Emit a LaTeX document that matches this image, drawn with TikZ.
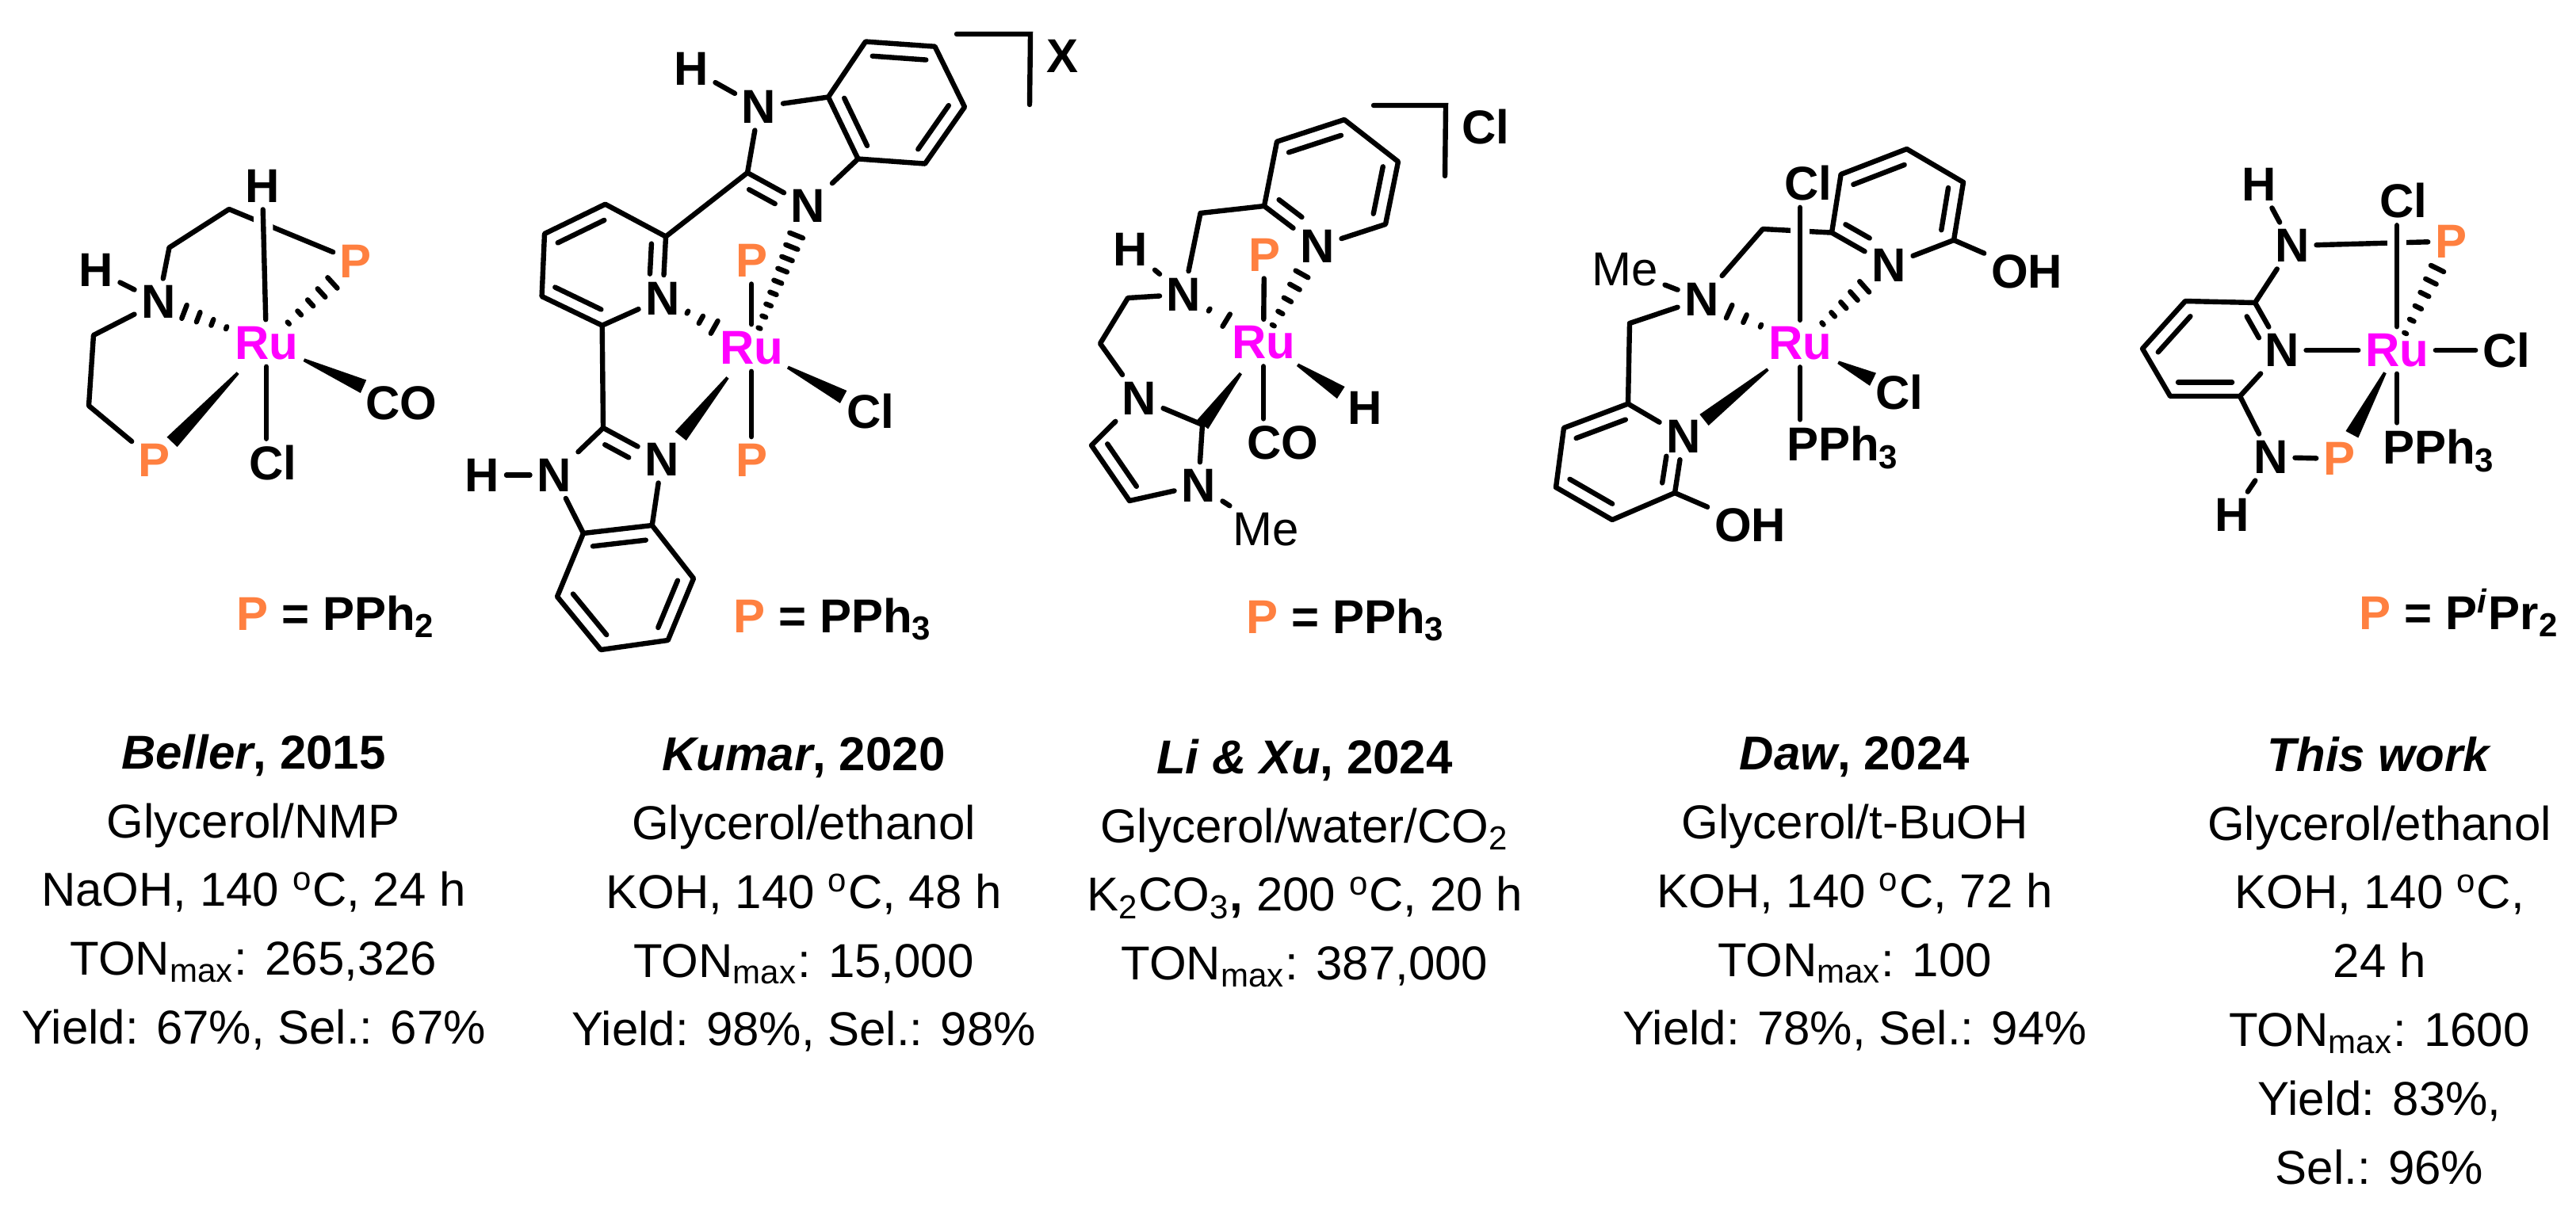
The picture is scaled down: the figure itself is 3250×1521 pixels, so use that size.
\documentclass[tikz,border=0pt]{standalone}
\usepackage{fontspec}
\setmainfont{Liberation Sans}
\usepackage{xcolor}
\usepackage{tikz}
\usetikzlibrary{calc}
\definecolor{RuPink}{RGB}{255,0,255}
\definecolor{POrange}{RGB}{255,128,64}
\tikzset{
    atom/.style={font=\fontsize{15}{18}\selectfont\bfseries, inner sep=2pt},
    ruatom/.style={atom, text=RuPink},
    patom/.style={atom, text=POrange},
    meatom/.style={atom, font=\fontsize{15}{18}\selectfont},
    keylabel/.style={atom, inner sep=0pt, anchor=base west},
    bond/.style={line width=1.6pt, line cap=round, line join=round},
    halo/.style={preaction={draw=white, line width=6pt, line cap=butt}},
    hashdash/.style={line width=1.6pt, line cap=round},
    cond/.style={font=\fontsize{15}{21.7}\selectfont, align=center, inner sep=0pt, anchor=north}
}
% wedge: from, to, gap at from, gap at to
\newcommand{\wedgebond}[4]{
    \coordinate (ws) at ($(#1)!#3!(#2)$);
    \coordinate (we) at ($(#2)!#4!(#1)$);
    \fill ($(ws)!0.5pt!90:(we)$) -- ($(we)!2.25pt!-90:(ws)$) -- ($(we)!2.25pt!90:(ws)$) -- ($(ws)!0.5pt!-90:(we)$) -- cycle;
}
% hashed bond: narrow end at from, last argument is the number of dashes
\newcommand{\hashbond}[5]{
    \coordinate (hs) at ($(#1)!#3!(#2)$);
    \coordinate (he) at ($(#2)!#4!(#1)$);
    \coordinate (hf) at ($(hs)!2!(he)$);
    \foreach \k in {1,...,#5}{
        \pgfmathsetmacro{\t}{(\k-1)/(#5-1)}
        \pgfmathsetmacro{\w}{0.4+1.85*\t}
        \draw[hashdash] ($(hs)!\t!(he)!\w pt!90:(hf)$) -- ($(hs)!\t!(he)!\w pt!-90:(hf)$);
    }
}
% inner line of a double bond, on the left of a->b
\newcommand{\dblin}[4]{
    \draw[bond] ($(#1)!#3!(#2)!4.4pt!90:(#2)$) -- ($(#2)!#4!(#1)!4.4pt!-90:(#1)$);
}
\begin{document}
\begin{tikzpicture}[x=0.25pt, y=-0.25pt]
    \useasboundingbox (0,0) rectangle (3250,1521);

    % Beller
    \node[ruatom] (ru1) at (336,433) {Ru};
    \node[atom] (h1a) at (331,235) {H};
    \node[atom] (h1b) at (121,341) {H};
    \node[atom] (n1) at (200,381) {N};
    \node[patom] (p1a) at (449,330) {P};
    \node[patom] (p1b) at (195,581) {P};
    \node[atom] (co1) at (506,509) {CO};
    \node[atom] (cl1) at (344,584.5) {Cl};
    \coordinate (c1a) at (213.5,312.5);
    \coordinate (c1b) at (289,264);
    \coordinate (c1c) at (118,423);
    \coordinate (c1d) at (112,512);
    \draw[bond] (h1b) -- (n1);
    \draw[bond] (n1) -- (c1a) -- (c1b) -- (p1a);
    \draw[bond] (n1) -- (c1c) -- (c1d) -- (p1b);
    \draw[bond, halo] (h1a) -- (ru1);
    \draw[bond] (ru1) -- (ru1 |- cl1.north);
    \wedgebond{ru1}{p1b}{13pt}{8pt}
    \wedgebond{ru1}{co1}{13pt}{13pt}
    \hashbond{ru1}{n1}{13.5pt}{8.7pt}{4}
    \hashbond{ru1}{p1a}{9.4pt}{10pt}{5}
    \node[keylabel] (key1) at (298,795) {\textcolor{POrange}{P} = PPh\textsubscript{2}};

    % Kumar
    \node[ruatom] (ru2) at (948,439) {Ru};
    \node[atom] (n2a) at (957.5,135) {N};
    \node[atom] (n2b) at (1019.5,260) {N};
    \node[atom] (n2c) at (836,376.5) {N};
    \node[atom] (n2d) at (835,580) {N};
    \node[atom] (n2e) at (699,599.5) {N};
    \node[atom] (h2a) at (872,87) {H};
    \node[atom] (h2b) at (608.5,599.5) {H};
    \node[patom] (p2a) at (948,329) {P};
    \node[patom] (p2b) at (948,580.6) {P};
    \node[atom] (cl2) at (1098,519) {Cl};
    \node[atom] (x2) at (1340,71) {X};
    \coordinate (c2a) at (943,218);
    \coordinate (c2b) at (1045,122.5);
    \coordinate (c2c) at (1082.5,200.5);
    \coordinate (c2d) at (1092,52.5);
    \coordinate (c2e) at (1179.5,58.7);
    \coordinate (c2f) at (1217,135);
    \coordinate (c2g) at (1167,206.6);
    \coordinate (c2h) at (840,298.5);
    \coordinate (c2i) at (763.6,257.7);
    \coordinate (c2j) at (687,295);
    \coordinate (c2k) at (683.6,374);
    \coordinate (c2l) at (759.7,410.7);
    \coordinate (c2m) at (761,540);
    \coordinate (c2n) at (736,673);
    \coordinate (c2o) at (822.7,663);
    \coordinate (c2p) at (875,730);
    \coordinate (c2q) at (842.7,808);
    \coordinate (c2r) at (758,820);
    \coordinate (c2s) at (703,753);
    \coordinate (b2a) at (1207,43);
    \coordinate (b2b) at (1300,43);
    \coordinate (b2c) at (1299,132);
    \draw[bond] (h2a) -- (n2a) -- (c2b) -- (c2d) -- (c2e) -- (c2f) -- (c2g) -- (c2c) -- (c2b);
    \draw[bond] (c2c) -- (n2b) -- (c2a) -- (n2a);
    \draw[bond] (c2a) -- (c2h) -- (c2i) -- (c2j) -- (c2k) -- (c2l) -- (n2c) -- (c2h);
    \draw[bond] (c2l) -- (c2m) -- (n2d) -- (c2o) -- (c2p) -- (c2q) -- (c2r) -- (c2s) -- (c2n) -- (c2o);
    \draw[bond] (c2n) -- (n2e) -- (c2m);
    \draw[bond] (n2e) -- (h2b);
    \draw[bond] (ru2) -- (p2a);
    \draw[bond] (ru2) -- (p2b);
    \draw[bond, line join=miter] (b2a) -- (b2b) -- (b2c);
    \foreach \pa/\pb/\sa/\sb in {c2e/c2d/2.5pt/2.5pt, c2g/c2f/2.5pt/2.5pt, c2b/c2c/2.5pt/2.5pt, c2i/c2j/2.5pt/2.5pt,
        c2k/c2l/2.5pt/2.5pt, n2c/c2h/7.5pt/2.5pt, n2b/c2a/9.5pt/3pt, n2d/c2m/9.5pt/3pt,
        c2o/c2n/2.5pt/2.5pt, c2q/c2p/2.5pt/2.5pt, c2s/c2r/2.5pt/2.5pt}{
        \dblin{\pa}{\pb}{\sa}{\sb}
    }
    \wedgebond{ru2}{cl2}{13pt}{9.6pt}
    \wedgebond{ru2}{n2d}{12pt}{9.5pt}
    \hashbond{ru2}{n2b}{6.7pt}{10pt}{9}
    \hashbond{n2c}{ru2}{9pt}{13.4pt}{3}
    \node[keylabel] (key2) at (925,798) {\textcolor{POrange}{P} = PPh\textsubscript{3}};

    % Li & Xu
    \node[ruatom] (ru3) at (1594,432.6) {Ru};
    \node[atom] (n3a) at (1662,311) {N};
    \node[atom] (n3b) at (1493.5,371.6) {N};
    \node[atom] (n3c) at (1437,502.4) {N};
    \node[atom] (n3d) at (1512,612.6) {N};
    \node[atom] (h3a) at (1426.5,315) {H};
    \node[atom] (h3b) at (1722,515) {H};
    \node[patom] (p3) at (1595,322) {P};
    \node[atom] (co3) at (1618,558.5) {CO};
    \node[meatom] (me3) at (1597,668) {Me};
    \node[atom] (cl3) at (1874,160) {Cl};
    \coordinate (c3a) at (1514.5,269);
    \coordinate (c3b) at (1595,260);
    \coordinate (c3c) at (1611,178.7);
    \coordinate (c3d) at (1696,151);
    \coordinate (c3e) at (1764,204);
    \coordinate (c3f) at (1748,283);
    \coordinate (c3g) at (1423,376);
    \coordinate (c3h) at (1388,433.5);
    \coordinate (c3i) at (1517,536);
    \coordinate (c3j) at (1377,562);
    \coordinate (c3k) at (1425,632);
    \coordinate (b3a) at (1733,133);
    \coordinate (b3b) at (1824,133);
    \coordinate (b3c) at (1823,222);
    \draw[bond] (h3a) -- (n3b) -- (c3a) -- (c3b) -- (c3c) -- (c3d) -- (c3e) -- (c3f) -- (n3a) -- (c3b);
    \draw[bond] (n3b) -- (c3g) -- (c3h) -- (n3c) -- (c3i) -- (n3d) -- (c3k) -- (c3j) -- (n3c);
    \draw[bond] (n3d) -- (me3);
    \draw[bond] (ru3) -- (p3);
    \draw[bond] (ru3) -- (ru3 |- co3.north);
    \draw[bond, line join=miter] (b3a) -- (b3b) -- (b3c);
    \foreach \pa/\pb/\sa/\sb in {c3b/n3a/2.5pt/9.5pt, c3f/c3e/2.5pt/2.5pt, c3d/c3c/2.5pt/2.5pt, c3j/c3k/2.5pt/2.5pt}{
        \dblin{\pa}{\pb}{\sa}{\sb}
    }
    \wedgebond{ru3}{c3i}{12pt}{0pt}
    \wedgebond{ru3}{h3b}{12.8pt}{9pt}
    \hashbond{ru3}{n3a}{6.3pt}{10pt}{5}
    \hashbond{n3b}{ru3}{9.4pt}{13.7pt}{2}
    \node[keylabel] (key3) at (1572,799) {\textcolor{POrange}{P} = PPh\textsubscript{3}};

    % Daw
    \node[ruatom] (ru4) at (2271,433.6) {Ru};
    \node[atom] (cl4a) at (2281,231) {Cl};
    \node[atom] (cl4b) at (2396,495) {Cl};
    \node[atom] (n4a) at (2383,334.6) {N};
    \node[atom] (n4b) at (2147,377.5) {N};
    \node[atom] (n4c) at (2124,550.7) {N};
    \node[meatom] (me4) at (2050,340) {Me};
    \node[atom] (oh4a) at (2557,343) {OH};
    \node[atom] (oh4b) at (2208,663) {OH};
    \node[atom] (pph4) at (2325,565) {PPh\textsubscript{3}};
    \coordinate (c4a) at (2224,289);
    \coordinate (c4b) at (2311,293.6);
    \coordinate (c4c) at (2322.6,220);
    \coordinate (c4d) at (2405.6,188);
    \coordinate (c4e) at (2477,230);
    \coordinate (c4f) at (2465,303);
    \coordinate (c4g) at (2056,408);
    \coordinate (c4h) at (2054,509.6);
    \coordinate (c4i) at (1973,540);
    \coordinate (c4j) at (1963,615);
    \coordinate (c4k) at (2034,656);
    \coordinate (c4l) at (2113,622);
    \draw[bond] (me4) -- (n4b) -- (c4a) -- (c4b) -- (c4c) -- (c4d) -- (c4e) -- (c4f) -- (n4a) -- (c4b);
    \draw[bond] (c4f) -- (oh4a);
    \draw[bond] (n4b) -- (c4g) -- (c4h) -- (c4i) -- (c4j) -- (c4k) -- (c4l) -- (n4c) -- (c4h);
    \draw[bond] (c4l) -- (oh4b);
    \draw[bond, halo] (ru4 |- cl4a.south) -- (ru4);
    \draw[bond] (ru4) -- (ru4 |- pph4.north);
    \foreach \pa/\pb/\sa/\sb in {c4b/n4a/2.5pt/9.5pt, c4f/c4e/2.5pt/2.5pt, c4d/c4c/2.5pt/2.5pt,
        c4h/c4i/2.5pt/2.5pt, c4j/c4k/2.5pt/2.5pt, c4l/n4c/2.5pt/7pt}{
        \dblin{\pa}{\pb}{\sa}{\sb}
    }
    \wedgebond{ru4}{n4c}{13pt}{8.3pt}
    \wedgebond{ru4}{cl4b}{13.4pt}{9.2pt}
    \hashbond{ru4}{n4a}{9.5pt}{10.3pt}{5}
    \hashbond{ru4}{n4b}{13.6pt}{9.5pt}{3}

    % This work
    \node[ruatom] (ru5) at (3024,442) {Ru};
    \node[atom] (cl5a) at (3032,253.5) {Cl};
    \node[atom] (cl5b) at (3162,442) {Cl};
    \node[atom] (n5a) at (2892,310) {N};
    \node[atom] (n5b) at (2879,442) {N};
    \node[atom] (n5c) at (2865,577) {N};
    \node[atom] (h5a) at (2850.5,233) {H};
    \node[atom] (h5b) at (2816,650) {H};
    \node[patom] (p5a) at (3092,304.5) {P};
    \node[patom] (p5b) at (2951,579) {P};
    \node[atom] (pph5) at (3077,569) {PPh\textsubscript{3}};
    \coordinate (c5a) at (2845,382);
    \coordinate (c5b) at (2757,380);
    \coordinate (c5c) at (2703,440);
    \coordinate (c5d) at (2738,500);
    \coordinate (c5e) at (2826,500);
    \draw[bond] (h5a) -- (n5a) -- (p5a);
    \draw[bond] (n5a) -- (c5a) -- (c5b) -- (c5c) -- (c5d) -- (c5e) -- (n5b) -- (c5a);
    \draw[bond] (n5b) -- (ru5) -- (cl5b);
    \draw[bond] (c5e) -- (n5c) -- (p5b);
    \draw[bond] (n5c) -- (h5b);
    \draw[bond, halo] (ru5 |- cl5a.south) -- (ru5);
    \draw[bond] (ru5) -- (ru5 |- pph5.north);
    \foreach \pa/\pb/\sa/\sb in {n5b/c5a/7pt/2.5pt, c5d/c5e/2.5pt/2.5pt, c5b/c5c/2.5pt/2.5pt}{
        \dblin{\pa}{\pb}{\sa}{\sb}
    }
    \wedgebond{ru5}{p5b}{8pt}{8.7pt}
    \hashbond{ru5}{p5a}{6pt}{9.6pt}{6}
    \node[keylabel] (key5) at (2976,794) {\textcolor{POrange}{P} = P\textsuperscript{\textit{i}}Pr\textsubscript{2}};

    % conditions under each complex
    \node[cond] (txt1) at (320,926) {\textbf{\textit{Beller}, 2015}\\Glycerol/NMP\\NaOH, 140 \textsuperscript{o}C, 24 h\\TON\textsubscript{max}: 265,326\\Yield: 67\%, Sel.: 67\%};
    \node[cond] (txt2) at (1014,930) {\textbf{\textit{Kumar}, 2020}\\Glycerol/ethanol\\KOH, 140 \textsuperscript{o}C, 48 h\\TON\textsubscript{max}: 15,000\\Yield: 98\%, Sel.: 98\%};
    \node[cond] (txt3) at (1646,932) {\textbf{\textit{Li \& Xu}, 2024}\\Glycerol/water/CO\textsubscript{2}\\K\textsubscript{2}CO\textsubscript{3}\textbf{,} 200 \textsuperscript{o}C, 20 h\\TON\textsubscript{max}: 387,000};
    \node[cond] (txt4) at (2340,929) {\textbf{\textit{Daw}, 2024}\\Glycerol/t-BuOH\\KOH, 140 \textsuperscript{o}C, 72 h\\TON\textsubscript{max}: 100\\Yield: 78\%, Sel.: 94\%};
    \node[cond] (txt5) at (3002,929) {\textbf{\textit{This work}}\\Glycerol/ethanol\\KOH, 140 \textsuperscript{o}C,\\24 h\\TON\textsubscript{max}: 1600\\Yield: 83\%,\\Sel.: 96\%};
\end{tikzpicture}
\end{document}
